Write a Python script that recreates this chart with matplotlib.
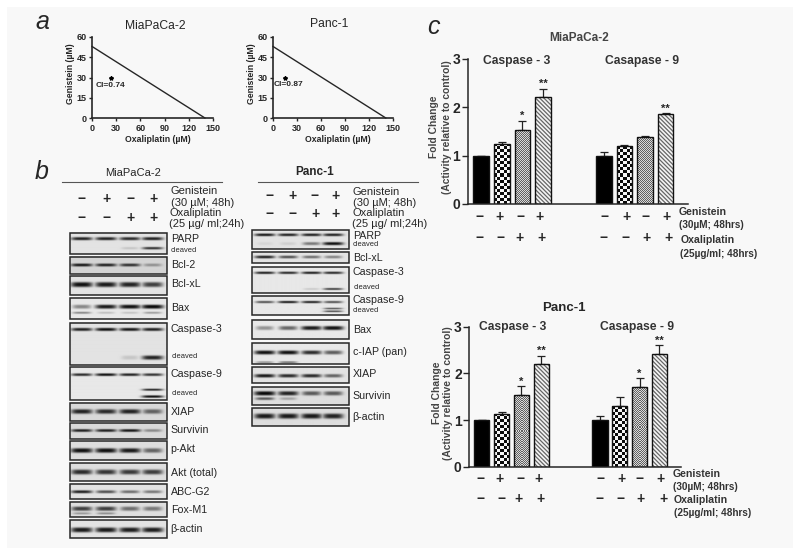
import numpy as np
import matplotlib
matplotlib.use("Agg")
import matplotlib.pyplot as plt
from matplotlib.patches import Rectangle

plt.rcParams['font.family'] = ['Liberation Sans', 'DejaVu Sans']
plt.rcParams['hatch.linewidth'] = 0.9
W, H = 800, 556
INK = '#262626'

# ---------- data: panel a ----------
iso_genistein = [53, 53]
iso_oxaliplatin = [140, 141]
point_oxaliplatin = [23, 15]
point_genistein = [30, 30]
cell_lines = ['MiaPaCa-2', 'Panc-1']
ci_labels = ['CI=0.74', 'CI=0.87']

# ---------- data: panel c ----------
bar_groups = [0, 1, 2, 3, 5.96, 6.96, 7.96, 8.96]
mia_values = [1.0, 1.25, 1.53, 2.21, 1.0, 1.2, 1.38, 1.86]
mia_errors = [0.0, 0.03, 0.19, 0.17, 0.08, 0.03, 0.02, 0.015]
mia_stars = ['', '', '*', '**', '', '', '', '**']
panc_values = [1.0, 1.14, 1.53, 2.2, 1.0, 1.3, 1.7, 2.42]
panc_errors = [0.01, 0.03, 0.19, 0.18, 0.08, 0.2, 0.2, 0.18]
panc_stars = ['', '', '*', '**', '', '', '*', '**']

# ---------- data: panel b, band strength per lane ----------
# name, top, bottom, background grey, [(y fraction, half thickness px, 4 lane strengths)]
mia_blots = [
    ('PARP', 232.7, 254, .86, [(.30, 1.5, [.85, .85, .8, .85]), (.74, 1.2, [0, 0, .08, .75])]),
    ('Bcl-2', 256.7, 274, .80, [(.5, 1.4, [.9, .85, .75, .25])]),
    ('Bcl-xL', 276, 294.7, .86, [(.45, 2.4, [.95, .9, .85, .7])]),
    ('Bax', 298, 319.3, .88, [(.44, 1.9, [.35, .9, .95, 1]), (.72, 1, [.35, .12, .1, .25])]),
    ('Caspase-3', 322.7, 365.3, .86, [(.17, 1.5, [.85, .95, .9, .85]), (.83, 2, [0, 0, .08, .85])]),
    ('Caspase-9', 367.3, 400, .88, [(.23, 1.3, [.8, .95, .85, .75]), (.69, 1, [0, 0, 0, .85]), (.9, 1.2, [0, 0, 0, .95])]),
    ('XIAP', 402.7, 421.3, .82, [(.5, 2.2, [.85, .8, .85, .5])]),
    ('Survivin', 423.3, 439.3, .82, [(.47, 1.4, [.85, .85, .9, .3])]),
    ('p-Akt', 441.3, 460, .84, [(.5, 2.2, [.95, .95, .9, .5])]),
    ('Akt (total)', 462.7, 480.7, .84, [(.5, 2.4, [.8, .75, .72, .7])]),
    ('ABC-G2', 484, 499.3, .86, [(.55, 1.4, [.85, .6, .45, .4])]),
    ('Fox-M1', 502, 517.3, .84, [(.48, 2, [.7, .7, .45, .4]), (.78, 1, [.25, .3, 0, 0])]),
    ('β-actin', 520, 538, .86, [(.55, 2.4, [.9, .9, .88, .88])]),
]
panc_blots = [
    ('PARP', 230, 248.7, .86, [(.25, 1.3, [.9, .85, .85, .85]), (.72, 1.5, [.03, .05, .4, .95])]),
    ('Bcl-xL', 252, 263.3, .86, [(.5, 1.3, [.85, .6, .45, .35])]),
    ('Caspase-3', 266.7, 292.7, .88, [(.22, 1.2, [.85, .8, .85, .8]), (.85, 1, [0, 0, .08, .7])]),
    ('Caspase-9', 295.7, 315.3, .88, [(.35, 1.1, [.6, .9, .85, .6]), (.68, .8, [0, 0, 0, .6]), (.82, .8, [0, 0, 0, .65])]),
    ('Bax', 320, 339.3, .88, [(.45, 1.9, [.3, .5, .9, .95])]),
    ('c-IAP (pan)', 343.3, 364, .88, [(.45, 1.9, [.95, .95, .8, .55]), (.92, .9, [.3, .45, 0, 0])]),
    ('XIAP', 367.3, 383.3, .86, [(.55, 1.7, [.9, .8, .8, .5])]),
    ('Survivin', 387.3, 404.7, .84, [(.35, 2, [1, .85, .55, .55]), (.65, 1.3, [.55, .2, 0, 0])]),
    ('β-actin', 408, 426, .84, [(.45, 2.5, [.9, .9, .9, .85])]),
]
mia_label_y = [239, 265, 284, 307.7, 329, 374, 412.3, 430.3, 448.7, 472.7, 491.7, 510.3, 529]
panc_label_y = [235.7, 257.7, 272.3, 300, 330.3, 351.7, 374.3, 395.7, 416.7]
signs_genistein = ['−', '+', '−', '+']
signs_oxaliplatin = ['−', '−', '+', '+']

fig = plt.figure(figsize=(W / 100, H / 100), dpi=100, facecolor='white')


def px_axes(x0, y_top, x1, y_bottom):
    return fig.add_axes([x0 / W, 1 - y_bottom / H, (x1 - x0) / W, (y_bottom - y_top) / H],
                        facecolor='none')


bg = px_axes(0, 0, W, H)
bg.set_xlim(0, W)
bg.set_ylim(H, 0)
bg.axis('off')
bg.add_patch(Rectangle((7, 7), 786, 541, fc='#f8f8f8', ec='none', zorder=0))


def txt(x, y, s, size=7.7, weight='normal', ha='left', rot=0, style='normal', color=INK):
    bg.text(x, y, s, fontsize=size, fontweight=weight, ha=ha, va='center', rotation=rot,
            fontstyle=style, color=color, zorder=5)


# ---------- panel letters ----------
txt(35, 22, 'a', 18, style='italic')
txt(35, 172, 'b', 18, style='italic')
txt(427, 27, 'c', 18, style='italic')

# ---------- panel a ----------
a_boxes = [(92, 213), (273, 393)]
a_title_x = [155, 329]
a_title_y = [26, 24]
a_xlab = [158, 338]
a_ylab = [70.7, 252]
a_ci = [(110, 85.7), (288, 84.3)]
for i, (x0, x1) in enumerate(a_boxes):
    ax = px_axes(x0, 37, x1, 118)
    ax.plot([0, iso_oxaliplatin[i]], [iso_genistein[i], 0], color=INK, lw=1.0, clip_on=False)
    ax.plot(point_oxaliplatin[i], point_genistein[i], marker='*', color='black', ms=3, ls='none')
    ax.set_xlim(0, 150)
    ax.set_ylim(0, 60)
    ax.set_xticks(range(0, 151, 30))
    ax.set_yticks(range(0, 61, 15))
    ax.tick_params(labelsize=6.5, length=2.5, width=1.0, pad=1.5, colors=INK)
    for lab in ax.get_xticklabels() + ax.get_yticklabels():
        lab.set_fontweight('bold')
    for s in ('top', 'right'):
        ax.spines[s].set_visible(False)
    for s in ('left', 'bottom'):
        ax.spines[s].set_linewidth(1.2)
        ax.spines[s].set_color(INK)
    txt(a_title_x[i], a_title_y[i], cell_lines[i], 8.7, ha='center')
    txt(a_xlab[i], 139, 'Oxaliplatin (µM)', 6.3, 'bold', ha='center')
    txt(a_ylab[i], 74, 'Genistein (µM)', 6.3, 'bold', ha='center', rot=90)
    txt(a_ci[i][0], a_ci[i][1], ci_labels[i], 6.0, 'bold', ha='center')


# ---------- panel b ----------
def draw_blot(x0, x1, top, bottom, grey, bands, lanes, half_w):
    nx = int((x1 - x0) * 3)
    ny = max(int((bottom - top) * 3), 6)
    xs = np.linspace(x0, x1, nx)
    ys = np.linspace(top, bottom, ny)
    xx, yy = np.meshgrid(xs, ys)
    dark = np.zeros_like(xx)
    for frac, thick, strengths in bands:
        yc = top + frac * (bottom - top)
        for xc, s in zip(lanes, strengths):
            if s <= 0:
                continue
            w = half_w * (0.75 + 0.25 * s)
            d = s ** 0.8 * np.exp(-((xx - xc) / w) ** 4) * np.exp(-(np.abs(yy - yc) / (thick * 1.05)) ** 3)
            dark = np.maximum(dark, d)
    img = (grey + 0.03) * (1 - dark) + 0.03 * dark
    bg.imshow(img, extent=(x0, x1, bottom, top), cmap='gray', vmin=0, vmax=1,
              aspect='auto', interpolation='bilinear', zorder=2)
    bg.add_patch(Rectangle((x0, top), x1 - x0, bottom - top, fc='none', ec='#262626', lw=1.1, zorder=3))


mia_lanes = [81.7, 106, 130, 152.7]
for (name, t, b, g, bands), y in zip(mia_blots, mia_label_y):
    draw_blot(70, 167, t, b, g, bands, mia_lanes, 11)
    txt(170.7, y, name, 7.7)
txt(171, 250.7, 'cleaved', 5.4)
txt(172, 356.7, 'cleaved', 5.4)
txt(172, 393.3, 'cleaved', 5.4)

panc_lanes = [265, 288.3, 311.7, 333.3]
for (name, t, b, g, bands), y in zip(panc_blots, panc_label_y):
    draw_blot(252.3, 349, t, b, g, bands, panc_lanes, 10.5)
    txt(352.7, y, name, 7.7)
txt(353, 244.3, 'cleaved', 5.4)
txt(354, 287.7, 'cleaved', 5.4)
txt(353, 311, 'cleaved', 5.4)

txt(133, 173, cell_lines[0], 8, ha='center')
txt(315, 171.7, cell_lines[1], 8.5, 'bold', ha='center')
bg.plot([62, 222], [182, 182], color='#555555', lw=0.8, zorder=3)
bg.plot([257.7, 417.7], [182, 182], color='#555555', lw=0.8, zorder=3)
for x, a, c in zip([81.7, 106.7, 130.7, 153.3], signs_genistein, signs_oxaliplatin):
    txt(x, 199, a, 10, 'bold', ha='center')
    txt(x, 217.7, c, 10, 'bold', ha='center')
for x, a, c in zip([270, 292.7, 315, 336], signs_genistein, signs_oxaliplatin):
    txt(x, 195.7, a, 10, 'bold', ha='center')
    txt(x, 214.3, c, 10, 'bold', ha='center')
txt(170.7, 190.7, 'Genistein', 8)
txt(170.7, 202.7, '(30 µM; 48h)', 8)
txt(169.3, 213, 'Oxaliplatin', 8)
txt(169, 224, '(25 µg/ ml;24h)', 8)
txt(352.7, 191.7, 'Genistein', 8)
txt(352.7, 202.7, '(30 µM; 48h)', 8)
txt(352.7, 213.3, 'Oxaliplatin', 8)
txt(351.7, 224, '(25 µg/ ml;24h)', 8)


# ---------- panel c ----------
def checker(ax, patch, x, v, cell_x, cell_y, lo, hi):
    """Fill one bar with a checker pattern, clipped by the bar."""
    nx = max(int(round(0.76 / cell_x)), 1)
    ny = max(int(round(v / cell_y)), 1)
    jj, ii = np.indices((ny, nx))
    pattern = np.where((ii + jj) % 2 == 0, lo, hi)
    im = ax.imshow(pattern, extent=(x - 0.38, x + 0.38, 0, v), cmap='gray', vmin=0, vmax=1,
                   aspect='auto', interpolation='nearest', zorder=1.5)
    im.set_clip_path(patch)


def bar_panel(x0, y3, x1, y0, first_px, unit, values, errors, stars):
    ax = px_axes(x0, y3, x1, y0)
    xlim = ((x0 - first_px) / unit, (x1 - first_px) / unit)
    y_px = (y0 - y3) / 3
    for i, (x, v, e, st) in enumerate(zip(bar_groups, values, errors, stars)):
        kind = i % 4
        if kind == 0:
            ax.bar(x, v, width=0.76, facecolor='black', edgecolor='#111111', linewidth=1.0, zorder=2)
        elif kind == 1:
            r = ax.bar(x, v, width=0.76, facecolor='none', edgecolor='#111111', linewidth=1.0, zorder=2)
            checker(ax, r[0], x, v, 3.0 / unit, 3.0 / y_px, 0.05, 0.97)
        elif kind == 2:
            r = ax.bar(x, v, width=0.76, facecolor='none', edgecolor='#111111', linewidth=1.0, zorder=2)
            checker(ax, r[0], x, v, 1.0 / unit, 1.0 / y_px, 0.38, 0.85)
        else:
            ax.bar(x, v, width=0.76, facecolor='#f4f4f4', edgecolor='#666666',
                   hatch='\\\\\\\\\\\\\\\\', linewidth=0, zorder=1.5)
            ax.bar(x, v, width=0.76, facecolor='none', edgecolor='#111111', linewidth=1.0, zorder=2)
        ax.errorbar(x, v, yerr=[[0], [e]], color='#222222', capsize=3.2, elinewidth=0.9,
                    capthick=0.9, fmt='none', zorder=1)
        if st:
            ax.text(x, v + e + 0.1, st, ha='center', va='center', fontsize=8, fontweight='bold', color=INK)
    ax.set_xlim(*xlim)
    ax.set_ylim(0, 3)
    ax.set_xticks([])
    ax.set_yticks([0, 1, 2, 3])
    ax.tick_params(axis='y', labelsize=10, length=4, width=1.0, pad=1.5, colors=INK)
    for lab in ax.get_yticklabels():
        lab.set_fontweight('bold')
    for s in ('top', 'right'):
        ax.spines[s].set_visible(False)
    for s in ('left', 'bottom'):
        ax.spines[s].set_linewidth(1.1)
        ax.spines[s].set_color(INK)
    return ax


bar_panel(468, 59, 688, 204, 481.2, 20.57, mia_values, mia_errors, mia_stars)
bar_panel(469.3, 326.7, 680.7, 466.7, 481.8, 19.83, panc_values, panc_errors, panc_stars)

txt(579, 38, cell_lines[0], 8.5, 'bold', ha='center', color='#444444')
txt(517, 61, 'Caspase - 3', 8.7, 'bold', ha='center', color='#333333')
txt(642, 61, 'Casapase - 9', 8.7, 'bold', ha='center', color='#333333')
txt(434, 127, 'Fold Change', 7.4, 'bold', ha='center', rot=90, color='#444444')
txt(447, 127, '(Activity relative to control)', 7.4, 'bold', ha='center', rot=90, color='#444444')
txt(564, 308, cell_lines[1], 9.5, 'bold', ha='center')
txt(513, 327, 'Caspase - 3', 8.7, 'bold', ha='center', color='#333333')
txt(637, 327, 'Casapase - 9', 8.7, 'bold', ha='center', color='#333333')
txt(437, 393, 'Fold Change', 7.4, 'bold', ha='center', rot=90, color='#444444')
txt(448, 393, '(Activity relative to control)', 7.4, 'bold', ha='center', rot=90, color='#444444')

c1_r1 = [480, 499.3, 520.7, 540, 605, 626.7, 646, 666.7]
c1_r2 = [480, 501, 519, 541.7, 604, 626, 646.7, 668.3]
c2_r1 = [480.7, 499.3, 520.7, 538.3, 601, 621.7, 640, 660.7]
c2_r2 = [480.7, 501.7, 518.3, 540.7, 600, 620.7, 640.7, 663.3]
for r1, r2, y1, y2 in [(c1_r1, c1_r2, 217, 238), (c2_r1, c2_r2, 479, 499)]:
    for x, s in zip(r1, signs_genistein * 2):
        txt(x, y1, s, 10, 'bold', ha='center')
    for x, s in zip(r2, signs_oxaliplatin * 2):
        txt(x, y2, s, 10, 'bold', ha='center')

txt(679, 212, 'Genistein', 7.6, 'bold', color='#333333')
txt(679, 225, '(30µM; 48hrs)', 7.2, 'bold', color='#333333')
txt(681, 240, 'Oxaliplatin', 7.6, 'bold', color='#333333')
txt(680, 254, '(25µg/ml; 48hrs)', 7.2, 'bold', color='#333333')
txt(672.7, 474, 'Genistein', 7.6, 'bold', color='#333333')
txt(672.7, 487, '(30µM; 48hrs)', 7.2, 'bold', color='#333333')
txt(674, 500, 'Oxaliplatin', 7.6, 'bold', color='#333333')
txt(674, 513, '(25µg/ml; 48hrs)', 7.2, 'bold', color='#333333')

bg.set_xlim(0, W)
bg.set_ylim(H, 0)
fig.savefig('out.png', dpi=100, facecolor=fig.get_facecolor())
